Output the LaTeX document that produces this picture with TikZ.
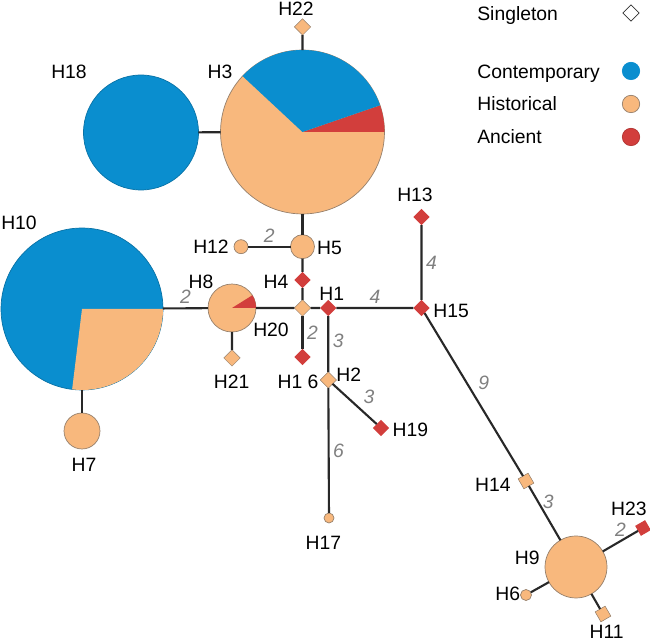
\documentclass[tikz,border=0pt]{standalone}
\usepackage{fontspec}
\setmainfont{Liberation Sans}
\definecolor{hblue}{RGB}{10,142,207}
\definecolor{horange}{RGB}{248,184,125}
\definecolor{hred}{RGB}{210,62,60}
\definecolor{pieline}{RGB}{150,128,108}
\definecolor{linkgray}{RGB}{40,40,40}
\definecolor{stepgray}{RGB}{128,128,128}
\newcommand{\pieslice}[5]{\fill[#5] (#1.center) -- ++(#2:#4) arc[start angle=#2, end angle=#3, radius=#4] -- cycle;}
\begin{document}
\begin{tikzpicture}[x=0.02cm, y=0.02cm,
  hap/.style={circle, draw=pieline, line width=0.4pt, inner sep=0pt, outer sep=0pt, minimum size=#1*0.04cm},
  sing/.style={rectangle, inner sep=0pt, outer sep=0pt, minimum size=0.23cm, rotate=45},
  tilt/.style={sing, rotate=-15},
  link/.style={draw=linkgray, line width=1.2pt},
  lab/.style={font=\fontsize{11}{13}\selectfont, text depth=0pt, inner sep=0pt},
  elab/.style={font=\fontsize{11}{13}\selectfont\itshape, text=stepgray, inner sep=2pt}]
\useasboundingbox (0,0) rectangle (650,-641);
% haplotypes
\node[hap=82, fill=horange] (H3) at (302.5,-132) {};
\node[hap=57.5, fill=hblue, draw=hblue!80!black] (H18) at (141,-132.5) {};
\node[hap=81, fill=hblue, draw=hblue!80!black] (H10) at (82,-309) {};
\node[hap=18, fill=horange] (H7) at (82,-431) {};
\node[hap=24, fill=horange] (H8) at (232,-308) {};
\node[hap=12, fill=horange] (H5) at (302.5,-246.7) {};
\node[hap=7, fill=horange] (H12) at (241,-246.7) {};
\node[hap=5, fill=horange] (H17) at (329,-518) {};
\node[hap=31, fill=horange] (H9) at (576,-567) {};
\node[hap=5.5, fill=horange] (H6) at (526,-595) {};
\pieslice{H3}{0}{19}{82}{hred}
\pieslice{H3}{19}{137}{82}{hblue}
\pieslice{H10}{-97}{0}{81}{horange}
\pieslice{H8}{0}{32}{24}{hred}
% singletons
\node[sing, fill=horange, draw=pieline, line width=0.3pt] (H22) at (302.5,-27) {};
\node[sing, fill=hred] (H4) at (302.5,-280) {};
\node[sing, fill=horange, draw=pieline, line width=0.3pt] (H20) at (302.5,-308) {};
\node[sing, fill=hred] (H1) at (328.3,-308) {};
\node[sing, fill=hred] (H16) at (302.5,-357) {};
\node[sing, fill=horange, draw=pieline, line width=0.3pt] (H2) at (328.3,-380) {};
\node[sing, fill=hred] (H19) at (381,-428) {};
\node[sing, fill=hred] (H13) at (421.5,-217) {};
\node[sing, fill=hred] (H15) at (421.5,-308) {};
\node[sing, fill=horange, draw=pieline, line width=0.3pt] (H21) at (232,-358) {};
\node[tilt, fill=horange, draw=pieline, line width=0.3pt] (H14) at (526,-481) {};
\node[tilt, fill=hred] (H23) at (643,-528) {};
\node[tilt, fill=horange, draw=pieline, line width=0.3pt] (H11) at (603,-614) {};
% links
\draw[link] (H22) -- (H3);
\draw[link] (H18) -- (H3);
\draw[link] (H3) -- (H5);
\draw[link] (H12) -- node[elab, above]{2} (H5);
\draw[link] (H5) -- (H4);
\draw[link] (H4) -- (H20);
\draw[link] (H10) -- node[elab, above]{2} (H8);
\draw[link] (H10) -- (H7);
\draw[link] (H8) -- (H20);
\draw[link] (H8) -- (H21);
\draw[link] (H20) -- (H1);
\draw[link] (H20) -- node[elab, right]{2} (H16);
\draw[link] (H1) -- node[elab, above]{4} (H15);
\draw[link] (H1) -- node[elab, right, pos=0.45]{3} (H2);
\draw[link] (H2) -- node[elab, above right, pos=0.6]{3} (H19);
\draw[link] (H2) -- node[elab, right]{6} (H17);
\draw[link] (H13) -- node[elab, right]{4} (H15);
\draw[link] (H15) -- node[elab, above right]{9} (H14);
\draw[link] (H14) -- node[elab, right, pos=0.3]{3} (H9);
\draw[link] (H9) -- node[elab, above]{2} (H23);
\draw[link] (H9) -- (H6);
\draw[link] (H9) -- (H11);
% names
\node[lab] (tH22) at (296,-9) {H22};
\node[lab] (tH3) at (220,-72) {H3};
\node[lab] (tH18) at (69,-72) {H18};
\node[lab] (tH10) at (19,-223) {H10};
\node[lab] (tH7) at (84,-465) {H7};
\node[lab] (tH8) at (201,-282) {H8};
\node[lab] (tH12) at (211,-247) {H12};
\node[lab] (tH5) at (329.5,-248) {H5};
\node[lab] (tH4) at (276,-282) {H4};
\node[lab] (tH20) at (271,-330) {H20};
\node[lab] (tH1) at (331.7,-294) {H1};
\node[lab] (tH21) at (231.7,-382) {H21};
\node[lab] (tH16) at (298,-382) {H1 6};
\node[lab] (tH2) at (348.8,-375) {H2};
\node[lab] (tH19) at (410.3,-430) {H19};
\node[lab] (tH17) at (323.3,-543) {H17};
\node[lab] (tH13) at (415,-195) {H13};
\node[lab] (tH15) at (451.2,-310.7) {H15};
\node[lab] (tH14) at (492.8,-485) {H14};
\node[lab] (tH9) at (527.2,-557.3) {H9};
\node[lab] (tH23) at (628.8,-508.3) {H23};
\node[lab] (tH6) at (507.8,-594) {H6};
\node[lab] (tH11) at (606.7,-631.5) {H11};
% key
\node[lab, anchor=west] (kSt) at (477,-13.5) {Singleton};
\node[lab, anchor=west] (kCt) at (477,-71.5) {Contemporary};
\node[lab, anchor=west] (kHt) at (477,-104) {Historical};
\node[lab, anchor=west] (kAt) at (477,-136.5) {Ancient};
\node[sing, fill=white, draw=black!80, line width=0.4pt] (kS) at (631,-13) {};
\node[hap=8.7, fill=hblue, draw=hblue] (kC) at (631,-71) {};
\node[hap=8.7, fill=horange] (kH) at (631,-104) {};
\node[hap=8.7, fill=hred, draw=hred!85!black] (kA) at (631,-137) {};
\end{tikzpicture}
\end{document}
